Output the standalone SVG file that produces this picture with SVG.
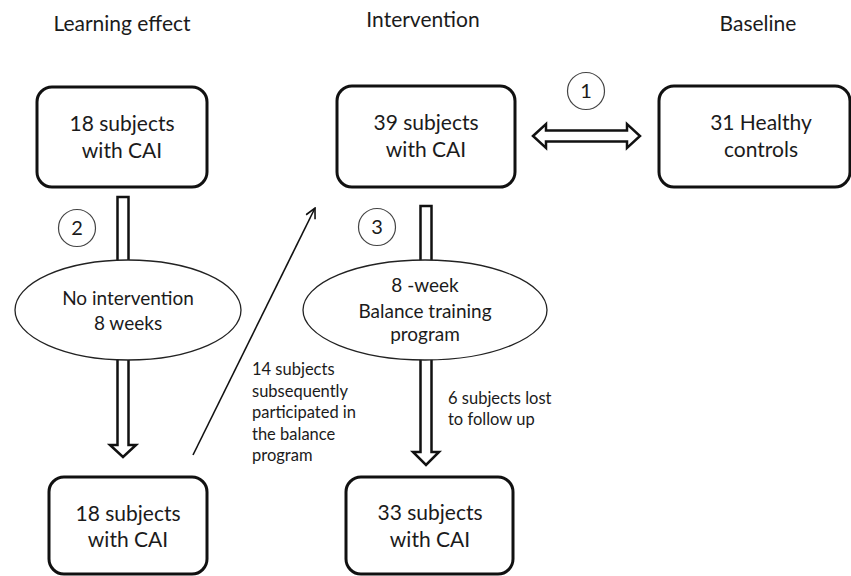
<svg xmlns="http://www.w3.org/2000/svg" width="851" height="576" viewBox="0 0 851 576">
  <style>
    text { font-family: Lato, "Open Sans", "Liberation Sans", sans-serif; fill: #1b1b1b; text-anchor: middle; }
    .title { font-size: 21px; }
    .box { fill: #fff; stroke: #111; stroke-width: 3; }
    .boxtxt { font-size: 21px; }
    .oval { fill: #fff; stroke: #222; stroke-width: 1.3; }
    .ovaltxt { font-size: 19px; }
    .num { fill: #fff; stroke: #444; stroke-width: 1.2; }
    .numtxt { font-size: 20px; }
    .note { font-size: 16.5px; text-anchor: start; }
    .block { fill: #fff; stroke: #111; stroke-width: 2.5; stroke-linejoin: miter; }
    .thin { fill: none; stroke: #111; stroke-width: 1.6; }
  </style>
  <defs>
    <marker id="open-head" viewBox="0 0 12 12" refX="11" refY="6" markerWidth="12" markerHeight="12" markerUnits="userSpaceOnUse" orient="auto">
      <path d="M1,1 L11,6 L1,11" fill="none" stroke="#111" stroke-width="1.6"/>
    </marker>
  </defs>

  <!-- column headings -->
  <text class="title" x="122" y="31">Learning effect</text>
  <text class="title" x="423" y="27">Intervention</text>
  <text class="title" x="758" y="31">Baseline</text>

  <!-- connectors (drawn first so the ovals sit on top of the shafts) -->
  <g id="connectors">
    <!-- baseline comparison: double block arrow -->
    <path class="block" d="M533,136 L546,124 L546,130.5 L627,130.5 L627,124 L640,136 L627,148 L627,141.5 L546,141.5 L546,148 Z"/>
    <!-- learning-effect arm: box -> oval -> box -->
    <rect class="block" x="117.5" y="197" width="11" height="80"/>
    <path class="block" d="M117.5,345 L128.5,345 L128.5,445 L136,445 L123,457 L110,445 L117.5,445 Z"/>
    <!-- intervention arm: box -> oval -> box -->
    <rect class="block" x="420.5" y="206" width="11" height="70"/>
    <path class="block" d="M420.5,345 L431.5,345 L431.5,452 L439,452 L426,465 L413,452 L420.5,452 Z"/>
    <!-- crossover into the balance program -->
    <line class="thin" x1="193" y1="455" x2="315" y2="208" marker-end="url(#open-head)"/>
  </g>

  <g id="learn-pre">
    <rect class="box" x="37" y="87" width="170" height="100" rx="15"/>
    <text class="boxtxt" x="122" y="131">18 subjects</text>
    <text class="boxtxt" x="122" y="158">with CAI</text>
  </g>

  <g id="interv-pre">
    <rect class="box" x="337" y="86" width="178" height="101" rx="15"/>
    <text class="boxtxt" x="426" y="130">39 subjects</text>
    <text class="boxtxt" x="426" y="157">with CAI</text>
  </g>

  <g id="healthy">
    <rect class="box" x="659" y="86" width="191" height="101" rx="15"/>
    <text class="boxtxt" x="761" y="130">31 Healthy</text>
    <text class="boxtxt" x="761" y="157">controls</text>
  </g>

  <g id="no-intervention">
    <ellipse class="oval" cx="128" cy="310" rx="113" ry="50"/>
    <text class="ovaltxt" x="128" y="305">No intervention</text>
    <text class="ovaltxt" x="128" y="330">8 weeks</text>
  </g>

  <g id="balance-program">
    <ellipse class="oval" cx="425" cy="310" rx="122" ry="50"/>
    <text class="ovaltxt" x="425" y="292">8 -week</text>
    <text class="ovaltxt" x="425" y="318">Balance training</text>
    <text class="ovaltxt" x="425" y="341">program</text>
  </g>

  <g id="learn-post">
    <rect class="box" x="49" y="477" width="158" height="97" rx="15"/>
    <text class="boxtxt" x="128" y="521">18 subjects</text>
    <text class="boxtxt" x="128" y="547">with CAI</text>
  </g>

  <g id="interv-post">
    <rect class="box" x="346" y="477" width="167" height="97" rx="15"/>
    <text class="boxtxt" x="430" y="520">33 subjects</text>
    <text class="boxtxt" x="430" y="547">with CAI</text>
  </g>

  <g id="label-1">
    <circle class="num" cx="586" cy="91" r="18.5"/>
    <text class="numtxt" x="586" y="98">1</text>
  </g>
  <g id="label-2">
    <circle class="num" cx="77" cy="228" r="18.5"/>
    <text class="numtxt" x="77" y="235">2</text>
  </g>
  <g id="label-3">
    <circle class="num" cx="377" cy="227" r="18.5"/>
    <text class="numtxt" x="377" y="234">3</text>
  </g>

  <g id="notes">
    <text class="note" x="252" y="375">14 subjects</text>
    <text class="note" x="252" y="397">subsequently</text>
    <text class="note" x="252" y="418">participated in</text>
    <text class="note" x="252" y="440">the balance</text>
    <text class="note" x="252" y="461">program</text>
    <text class="note" x="448" y="404">6 subjects lost</text>
    <text class="note" x="448" y="425">to follow up</text>
  </g>
</svg>
